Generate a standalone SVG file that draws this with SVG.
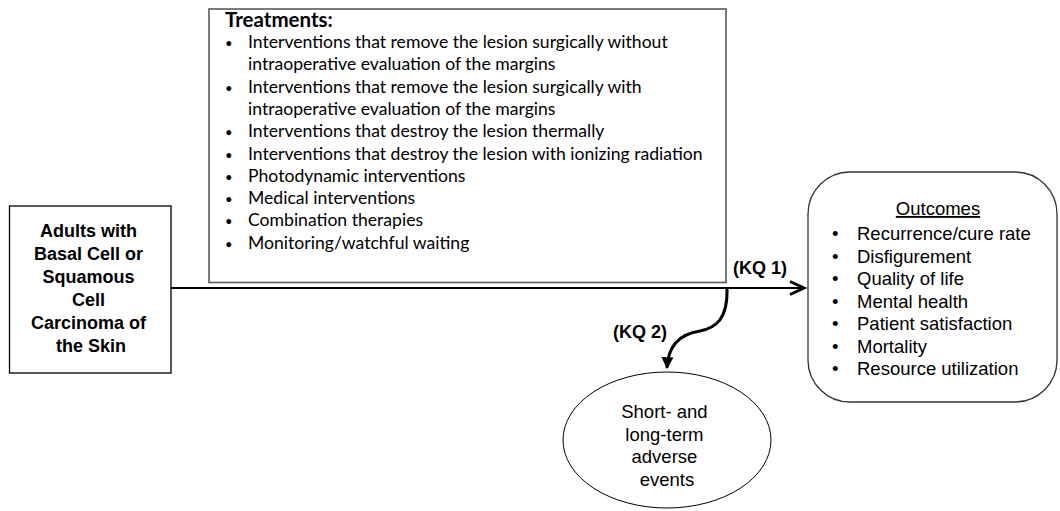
<svg xmlns="http://www.w3.org/2000/svg" width="1060" height="511" viewBox="0 0 1060 511">
<defs>
<style>
.box{fill:#fff;stroke:#000;stroke-width:1.3}
.tbox{fill:#fff;stroke:#5a5a5a;stroke-width:1.6}
.ar{font-family:"Liberation Sans",Arial,sans-serif;font-size:18.5px;fill:#000}
.arb{font-family:"Liberation Sans",Arial,sans-serif;font-size:18px;font-weight:bold;fill:#000}
.tr{font-family:Lato,"Open Sans",sans-serif;font-size:17.6px;fill:#000}
.bl{font-family:Lato,"Open Sans",sans-serif;font-size:13px;fill:#000}
.trb{font-family:Lato,"Open Sans",sans-serif;font-size:20.5px;font-weight:bold;fill:#000}
.conn{fill:none;stroke:#000}
</style>
<marker id="tri" viewBox="0 0 10 10" refX="9" refY="5" markerWidth="4" markerHeight="4" orient="auto" markerUnits="strokeWidth">
<path d="M0,0 L10,5 L0,10 z" fill="#000"/>
</marker>
</defs>
<rect width="1060" height="511" fill="#fff"/>

<g id="connectors">
<line class="conn" x1="171" y1="288" x2="803" y2="288" stroke-width="2"/>
<polyline class="conn" points="790,281.5 804,288 790,294.5" stroke-width="3" stroke-linejoin="miter"/>
<path class="conn" d="M727,288 C728,320 715,328 700,331 C680,334 668,345 667,368" stroke-width="3" marker-end="url(#tri)"/>
</g>

<g id="population">
<rect class="box" x="9.5" y="206" width="161.5" height="167"/>
<text class="arb" text-anchor="middle">
<tspan x="91" y="237">Adults with</tspan>
<tspan x="91" y="260">Basal Cell or</tspan>
<tspan x="91" y="283">Squamous</tspan>
<tspan x="91" y="306">Cell</tspan>
<tspan x="91" y="329">Carcinoma of</tspan>
<tspan x="91" y="352">the Skin</tspan>
</text>
</g>

<g id="treatments">
<rect class="tbox" x="209" y="9" width="517" height="273.5"/>
<text class="trb" x="225" y="27">Treatments:</text>
<g class="bl">
<text x="225" y="48">•</text>
<text x="225" y="92.6">•</text>
<text x="225" y="137.2">•</text>
<text x="225" y="159.5">•</text>
<text x="225" y="181.8">•</text>
<text x="225" y="204.1">•</text>
<text x="225" y="226.4">•</text>
<text x="225" y="248.7">•</text>
</g>
<g class="tr">
<text x="248" y="48">Interventions that remove the lesion surgically without</text>
<text x="248" y="70.3">intraoperative evaluation of the margins</text>
<text x="248" y="92.6">Interventions that remove the lesion surgically with</text>
<text x="248" y="114.9">intraoperative evaluation of the margins</text>
<text x="248" y="137.2">Interventions that destroy the lesion thermally</text>
<text x="248" y="159.5">Interventions that destroy the lesion with ionizing radiation</text>
<text x="248" y="181.8">Photodynamic interventions</text>
<text x="248" y="204.1">Medical interventions</text>
<text x="248" y="226.4">Combination therapies</text>
<text x="248" y="248.7">Monitoring/watchful waiting</text>
</g>
</g>

<g id="outcomes">
<rect x="808" y="172" width="249" height="230" rx="42" ry="42" fill="#fff" stroke="#333" stroke-width="1.3"/>
<text class="ar" x="938" y="215" text-anchor="middle" text-decoration="underline">Outcomes</text>
<g class="ar">
<text x="832" y="240">•</text><text x="857" y="240">Recurrence/cure rate</text>
<text x="832" y="262.5">•</text><text x="857" y="262.5">Disfigurement</text>
<text x="832" y="285">•</text><text x="857" y="285">Quality of life</text>
<text x="832" y="307.5">•</text><text x="857" y="307.5">Mental health</text>
<text x="832" y="330">•</text><text x="857" y="330">Patient satisfaction</text>
<text x="832" y="352.5">•</text><text x="857" y="352.5">Mortality</text>
<text x="832" y="375">•</text><text x="857" y="375">Resource utilization</text>
</g>
</g>

<g id="adverse-events">
<ellipse cx="667" cy="440" rx="104" ry="68" fill="#fff" stroke="#000" stroke-width="1"/>
<text class="ar" text-anchor="middle">
<tspan x="667" y="418">Short- and</tspan>
<tspan x="667" y="440.5">long-term</tspan>
<tspan x="667" y="463">adverse</tspan>
<tspan x="667" y="485.5">events</tspan>
</text>
</g>

<g id="labels">
<text class="arb" x="733" y="274">(KQ 1)</text>
<text class="arb" x="613" y="338">(KQ 2)</text>
</g>
</svg>
